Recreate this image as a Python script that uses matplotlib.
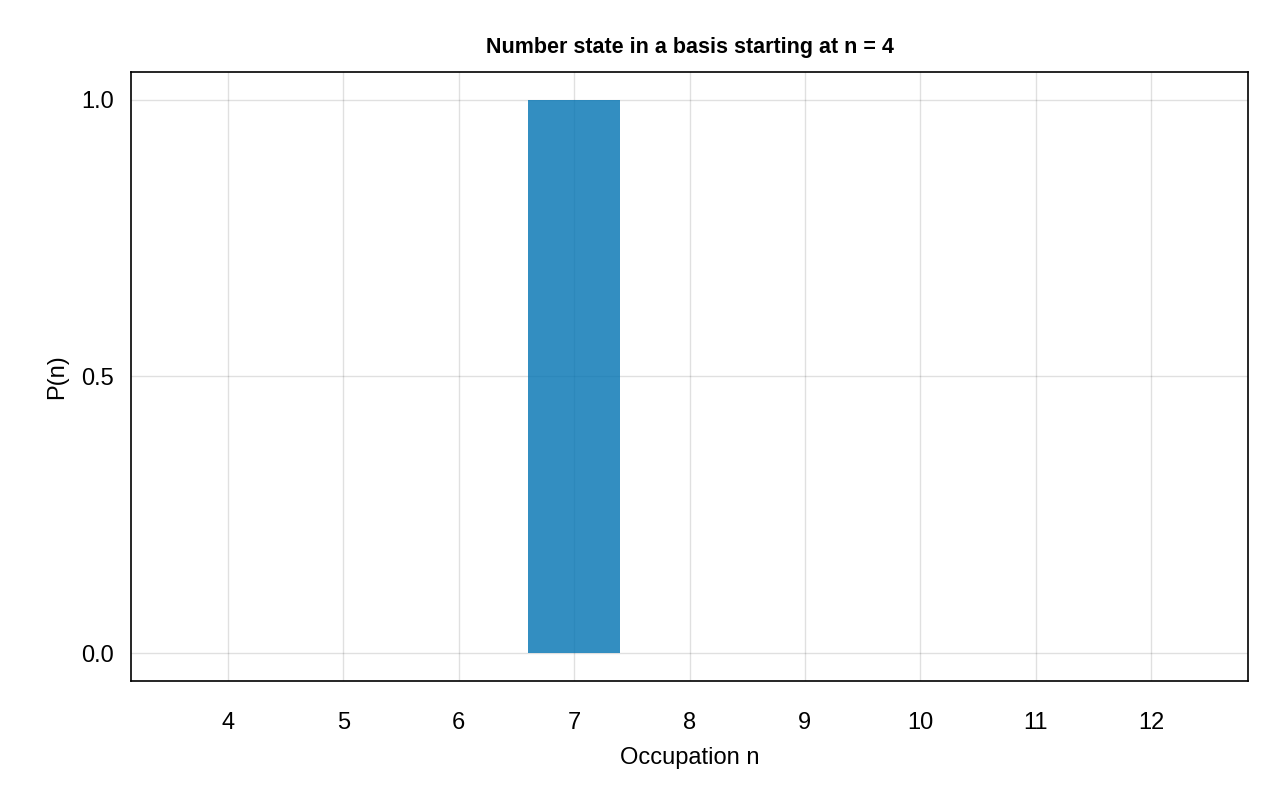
import matplotlib
matplotlib.use("Agg")
import matplotlib.pyplot as plt

n_values = [4, 5, 6, 7, 8, 9, 10, 11, 12]
probabilities = [0, 0, 0, 1.0, 0, 0, 0, 0, 0]
y_ticks = [0.0, 0.5, 1.0]
y_tick_labels = ["0.0", "0.5", "1.0"]

plt.rcParams['font.family'] = ['Liberation Sans', 'DejaVu Sans']
fig = plt.figure(figsize=(12.8, 8), dpi=100)
ax = fig.add_axes([131/1280, 1-681/800, (1248-131)/1280, (681-72)/800])
ax.set_axisbelow(True)
ax.bar(n_values, probabilities, width=0.8, color=(0.0, 0.447, 0.698), alpha=0.8, zorder=3)
ax.set_xlim(3.16, 12.84)
ax.set_ylim(-0.05, 1.05)
ax.set_xticks(n_values)
ax.set_yticks(y_ticks)
ax.set_yticklabels(y_tick_labels)
ax.grid(True, color='black', alpha=0.12, linewidth=1)
ax.tick_params(labelsize=17, length=0)
ax.tick_params(axis='x', pad=22)
ax.tick_params(axis='y', pad=12)
ax.set_xlabel("Occupation n", fontsize=17, labelpad=10)
ax.set_ylabel("P(n)", fontsize=17, labelpad=10)
ax.set_title("Number state in a basis starting at n = 4", fontsize=15.5, fontweight='bold', pad=14)
for s in ax.spines.values():
    s.set_linewidth(1.2)
fig.savefig("out.png", dpi=100)
